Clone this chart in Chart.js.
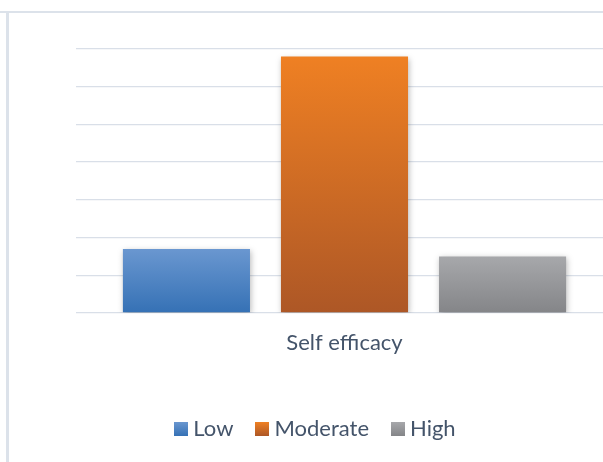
<!DOCTYPE html>
<html><head><meta charset="utf-8">
<script src="https://cdn.jsdelivr.net/npm/chart.js@4/dist/chart.umd.min.js"></script>
<style>html,body{margin:0;padding:0;overflow:hidden;background:#fff}
#wrap{position:relative;width:620px;height:462px}</style>
</head><body><div id="wrap"><canvas id="c" width="620" height="462"></canvas></div>
<script>
const categories = ['Self efficacy'];
const seriesNames = ['Low', 'Moderate', 'High'];
const lowValues = [17];
const moderateValues = [68];
const highValues = [15];
const yTicks = [0, 10, 20, 30, 40, 50, 60, 70];

const gradStops = [
  ['#6a97d0', '#3571b5'],
  ['#ef8023', '#ad5726'],
  ['#a7a8ab', '#848588']
];
const textColor = '#44546A';
const font = "Lato, 'Open Sans', sans-serif";

function barGradient(idx) {
  return function (ctx) {
    const chart = ctx.chart;
    const area = chart.chartArea;
    if (!area || ctx.parsed === undefined) return gradStops[idx][1];
    const yScale = chart.scales.y;
    const top = yScale.getPixelForValue(ctx.parsed.y);
    const g = chart.ctx.createLinearGradient(0, top, 0, area.bottom);
    g.addColorStop(0, gradStops[idx][0]);
    g.addColorStop(1, gradStops[idx][1]);
    return g;
  };
}

const framePlugin = {
  id: 'frame',
  beforeDraw(chart) {
    const c = chart.ctx;
    c.save();
    c.fillStyle = '#ffffff';
    c.fillRect(0, 0, chart.width, chart.height);
    c.strokeStyle = '#dce2ea';
    c.lineWidth = 2;
    c.beginPath(); c.moveTo(0, 12); c.lineTo(chart.width, 12); c.stroke();
    c.lineWidth = 3;
    c.beginPath(); c.moveTo(7.5, 12); c.lineTo(7.5, chart.height); c.stroke();
    c.restore();
  },
  afterDraw(chart) {
    const c = chart.ctx;
    const lg = chart.legend;
    if (!lg || !lg.legendHitBoxes) return;
    lg.legendHitBoxes.forEach((hb, i) => {
      const cy = hb.top + hb.height / 2;
      const y0 = Math.round(cy - 7);
      const g = c.createLinearGradient(0, y0, 0, y0 + 14);
      g.addColorStop(0, gradStops[i][0]);
      g.addColorStop(1, gradStops[i][1]);
      c.fillStyle = g;
      c.fillRect(Math.round(hb.left), y0, 14, 14);
    });
  }
};

const shadowPlugin = {
  id: 'barShadow',
  beforeDatasetsDraw(chart) {
    const c = chart.ctx;
    c.save();
    c.shadowColor = 'rgba(0,0,0,0.28)';
    c.shadowBlur = 6;
    c.shadowOffsetX = 1;
    c.shadowOffsetY = 2;
  },
  afterDatasetsDraw(chart) { chart.ctx.restore(); }
};

const seriesValues = [lowValues, moderateValues, highValues];

new Chart(document.getElementById('c'), {
  type: 'bar',
  data: {
    labels: categories,
    datasets: seriesNames.map((name, i) => ({
      label: name,
      data: seriesValues[i],
      backgroundColor: barGradient(i),
      borderWidth: 0,
      barPercentage: 0.804,
      categoryPercentage: 0.883
    }))
  },
  options: {
    responsive: false,
    animation: false,
    devicePixelRatio: 1,
    layout: { padding: { left: 17, top: 49, right: 7, bottom: 12 } },
    plugins: {
      tooltip: { enabled: false },
      legend: {
        position: 'bottom',
        labels: {
          boxWidth: 8, boxHeight: 14,
          color: textColor,
          font: { family: font, size: 22 },
          padding: 22,
          generateLabels(chart) {
            return Chart.defaults.plugins.legend.labels.generateLabels(chart).map(l =>
              Object.assign(l, { fillStyle: 'rgba(0,0,0,0)', strokeStyle: 'rgba(0,0,0,0)', lineWidth: 0 }));
          }
        }
      }
    },
    scales: {
      x: {
        grid: { display: false },
        border: { display: false },
        ticks: { color: textColor, font: { family: font, size: 22 }, padding: 9 },
        afterFit(s) { s.height = 83; }
      },
      y: {
        min: 0, max: 70,
        afterBuildTicks(s) { s.ticks = yTicks.map(v => ({ value: v })); },
        ticks: { display: false },
        border: { display: false },
        grid: { color: '#d9dfe8', lineWidth: 1.3, drawTicks: false },
        afterFit(s) { s.width = 59; }
      }
    }
  },
  plugins: [framePlugin, shadowPlugin]
});
</script></body></html>
